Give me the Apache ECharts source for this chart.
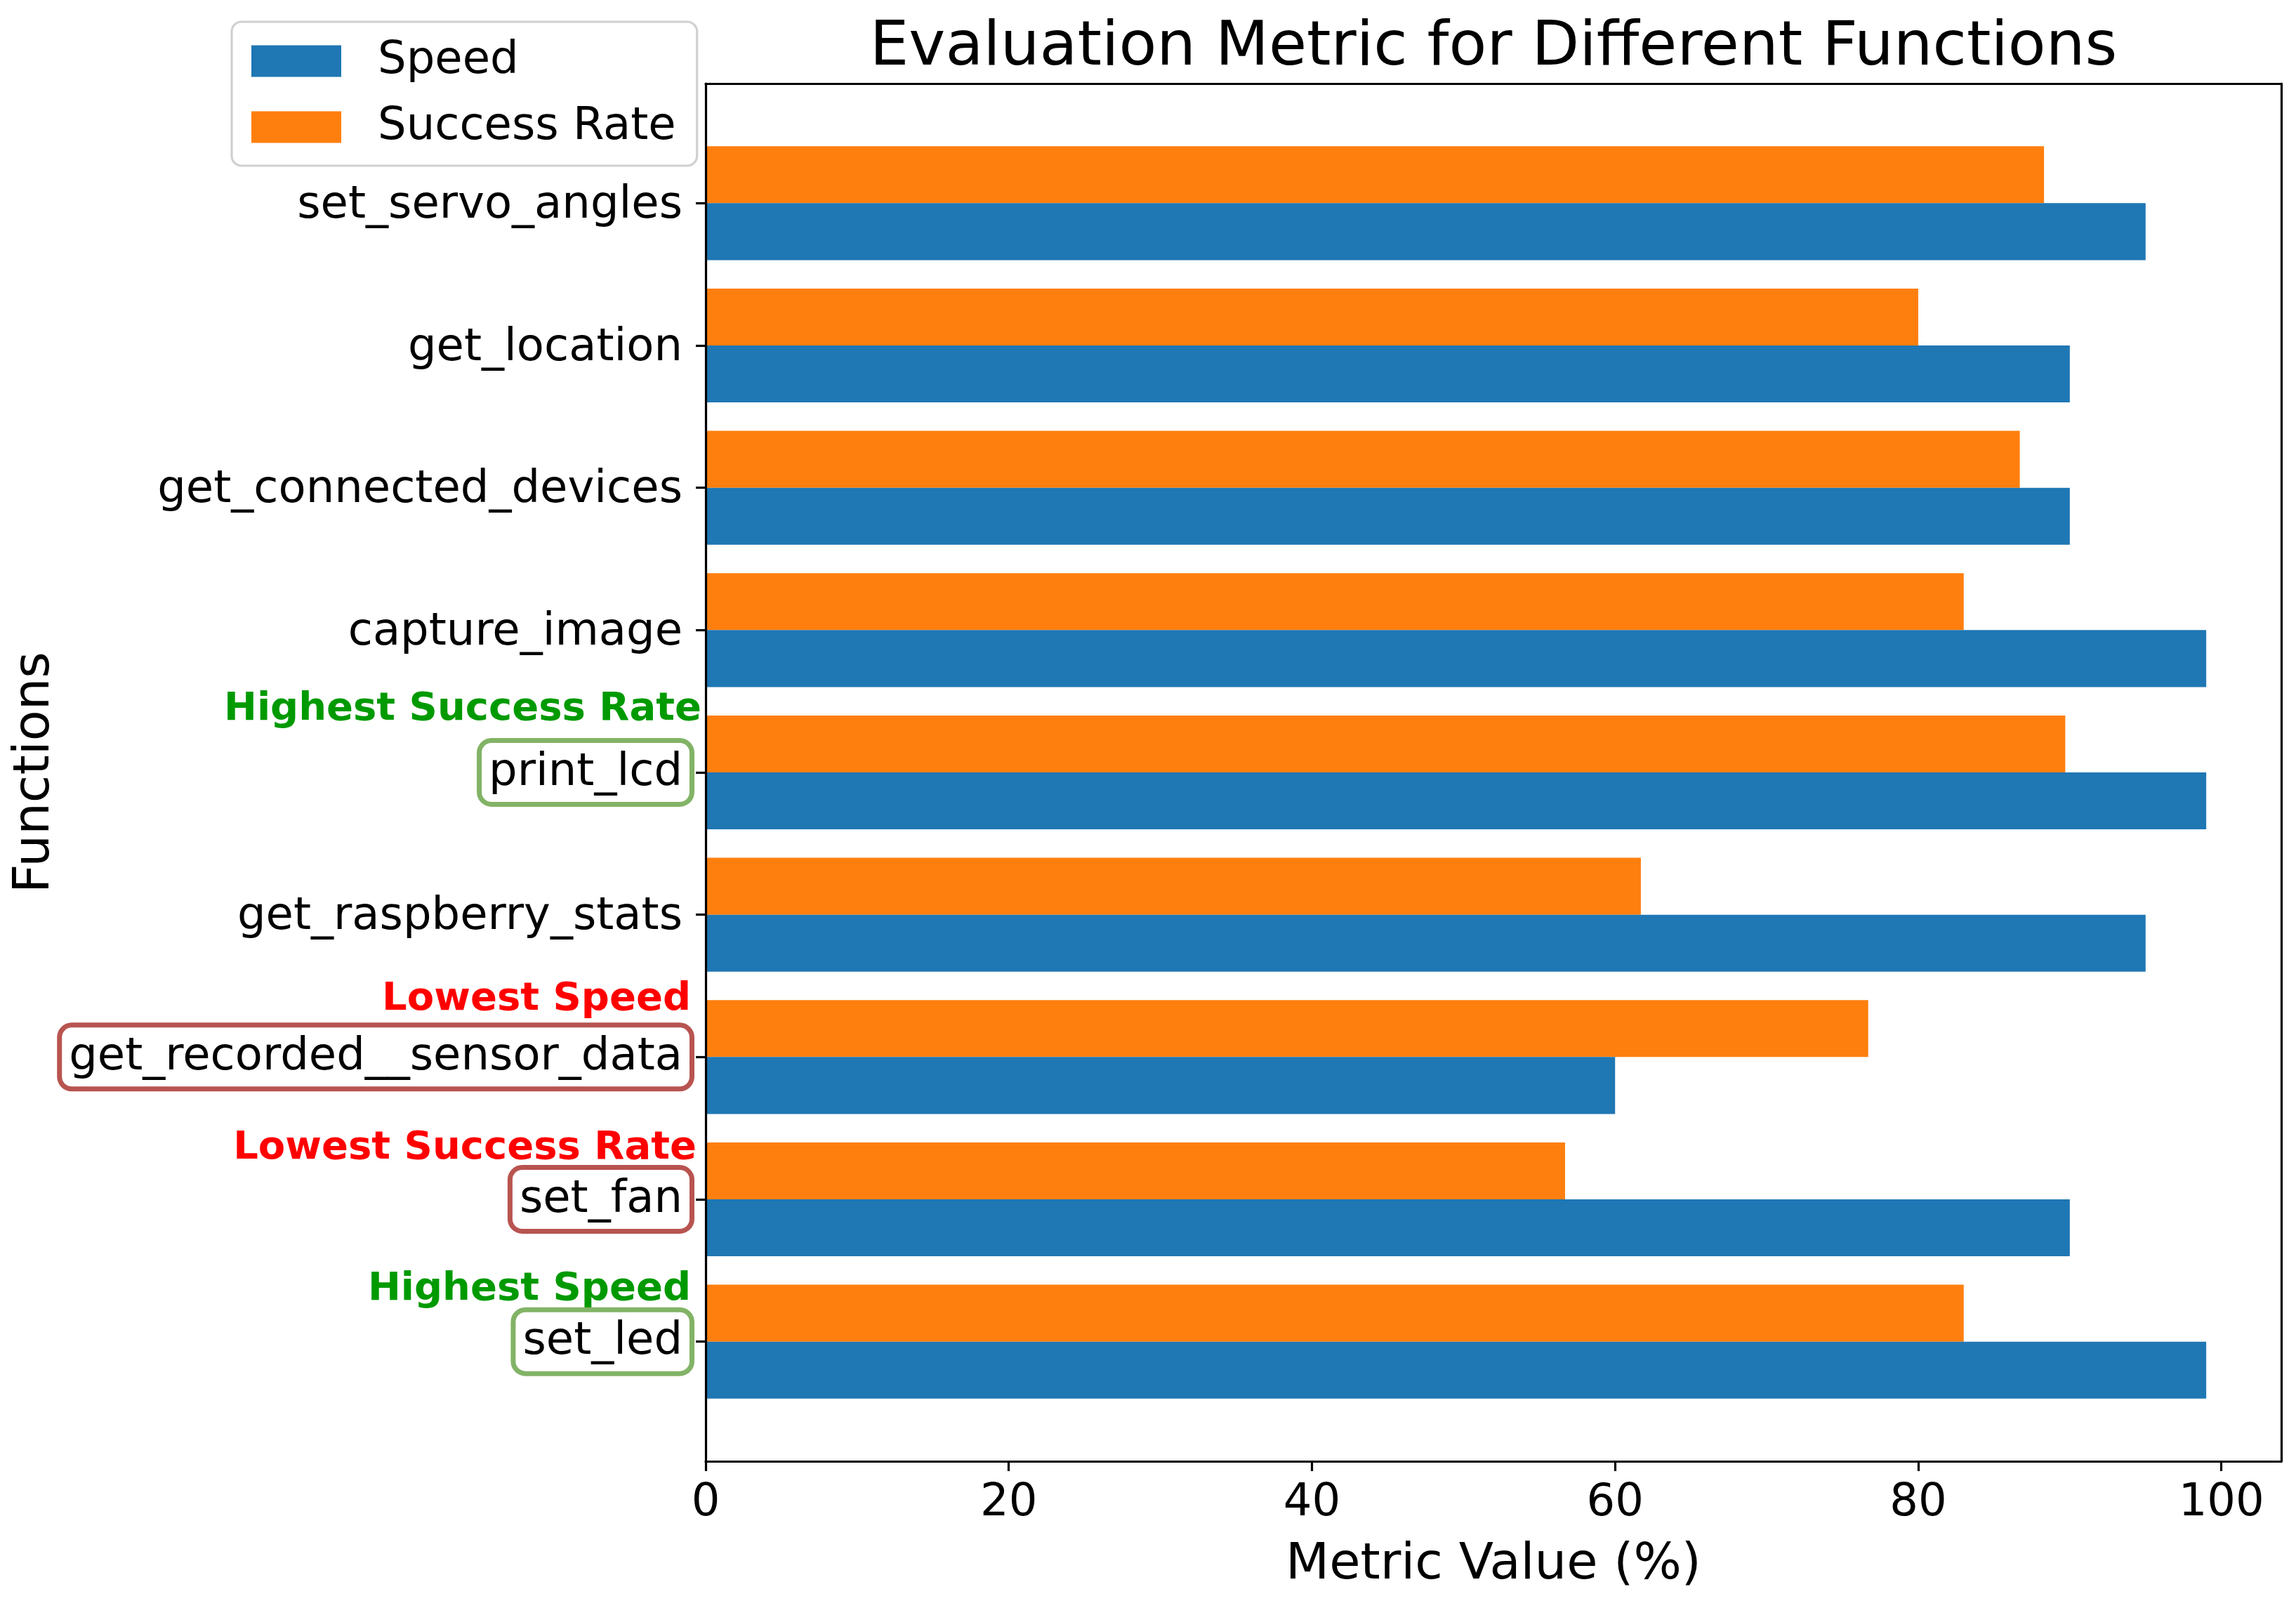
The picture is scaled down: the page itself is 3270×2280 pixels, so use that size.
<!DOCTYPE html>
<html>
<head>
<meta charset="utf-8">
<script src="https://cdn.jsdelivr.net/npm/echarts@6/dist/echarts.min.js"></script>
<style>html,body{margin:0;padding:0;background:#fff;}#chart{width:3270px;height:2280px;}</style>
</head>
<body>
<div id="chart"></div>
<script>
const categories = ['set_led', 'set_fan', 'get_recorded__sensor_data', 'get_raspberry_stats', 'print_lcd', 'capture_image', 'get_connected_devices', 'get_location', 'set_servo_angles'];
const speed = [99, 90, 60, 95, 99, 99, 90, 90, 95];
const successRate = [83.0, 56.7, 76.7, 61.7, 89.7, 83.0, 86.7, 80.0, 88.3];
const xTicks = [0, 20, 40, 60, 80, 100];
const annotatedLabels = ['set_led', 'set_fan', 'get_recorded__sensor_data', 'print_lcd'];
const annotationTexts = ['Highest Speed', 'Lowest Success Rate', 'Lowest Speed', 'Highest Success Rate'];
const annotationKinds = ['good', 'bad', 'bad', 'good'];

const FONT = 'DejaVu Sans';
const annLineHeights = [64, 62, 80, 96];
const annGaps = [11, 3, 11, -4];
const rich = {
  plain: { fontFamily: FONT, fontSize: 64, color: '#000', padding: [14, 10, 6, 10] },
  goodBox: { fontFamily: FONT, fontSize: 64, color: '#000', padding: [11, 10, 9, 10], borderColor: '#82b366', borderWidth: 7, borderRadius: 14, backgroundColor: '#fff' },
  badBox: { fontFamily: FONT, fontSize: 64, color: '#000', padding: [11, 10, 9, 10], borderColor: '#b85450', borderWidth: 7, borderRadius: 14, backgroundColor: '#fff' },
  gap: { fontSize: 10, width: 18 }
};
annotatedLabels.forEach(function (l, i) {
  rich['ann' + i] = { fontFamily: FONT, fontSize: 56, fontWeight: 'bold', color: annotationKinds[i] === 'good' ? '#009a00' : '#ff0000', lineHeight: annLineHeights[i] };
  rich['pad' + i] = { fontSize: 10, lineHeight: annLineHeights[i] };
  rich['agap' + i] = { fontSize: 10, width: Math.max(annGaps[i] + 5, 0) };
});

const chart = echarts.init(document.getElementById('chart'), null, { renderer: 'canvas' });
const frameLine = { show: true, onZero: false, lineStyle: { color: '#000', width: 3.2 } };
const xMax = 99 * 1.05;

chart.setOption({
  backgroundColor: '#fff',
  animation: false,
  title: {
    text: 'Evaluation Metric for Different Functions',
    left: 2127, top: 25, textAlign: 'center', padding: 0,
    textStyle: { fontFamily: FONT, fontSize: 88, fontWeight: 'normal', color: '#000' }
  },
  legend: {
    data: ['Speed', 'Success Rate'],
    orient: 'vertical', left: 330, top: 31,
    padding: [24, 30, 23, 28],
    itemWidth: 128, itemHeight: 45, itemGap: 30,
    icon: 'rect',
    backgroundColor: '#fff', borderColor: '#d0d0d0', borderWidth: 3.2, borderRadius: 14,
    textStyle: { fontFamily: FONT, fontSize: 64, color: '#000', lineHeight: 64, padding: [0, 0, 0, 47] }
  },
  grid: [
    { left: 1005, right: 21, top: 119, bottom: 199 },
    { left: 1005, right: 21, top: 188, bottom: 268 }
  ],
  xAxis: [
    {
      gridIndex: 0, type: 'value', min: 0, max: xMax, position: 'bottom', z: 10,
      axisLine: frameLine,
      axisTick: { show: true, length: 14, inside: false, lineStyle: { color: '#000', width: 3.2 }, customValues: xTicks },
      axisLabel: { show: true, margin: 28, fontFamily: FONT, fontSize: 64, color: '#000', customValues: xTicks },
      splitLine: { show: false },
      name: 'Metric Value (%)', nameLocation: 'middle', nameGap: 112,
      nameTextStyle: { fontFamily: FONT, fontSize: 72, color: '#000' }
    },
    {
      gridIndex: 0, type: 'value', min: 0, max: xMax, position: 'top', z: 10,
      axisLine: frameLine, axisTick: { show: false }, axisLabel: { show: false }, splitLine: { show: false }
    },
    {
      gridIndex: 1, type: 'value', min: 0, max: xMax, show: false, splitLine: { show: false }
    }
  ],
  yAxis: [
    {
      gridIndex: 0, type: 'value', min: 0, max: 1, position: 'left', z: 10,
      axisLine: frameLine, axisTick: { show: false }, axisLabel: { show: false }, splitLine: { show: false },
      name: 'Functions', nameLocation: 'middle', nameGap: 919, nameRotate: 90,
      nameTextStyle: { fontFamily: FONT, fontSize: 72, color: '#000' }
    },
    {
      gridIndex: 0, type: 'value', min: 0, max: 1, position: 'right', z: 10,
      axisLine: frameLine, axisTick: { show: false }, axisLabel: { show: false }, splitLine: { show: false }
    },
    {
      gridIndex: 1, type: 'category', data: categories, position: 'left', z: 10,
      axisLine: { show: false },
      axisTick: { show: true, alignWithLabel: true, interval: 0, length: 14, lineStyle: { color: '#000', width: 3.2 } },
      axisLabel: {
        interval: 0, margin: 5, align: 'right',
        formatter: function (value) {
          const i = annotatedLabels.indexOf(value);
          if (i < 0) return '{plain|' + value + '}{gap| }';
          return '{ann' + i + '|' + annotationTexts[i] + '}{agap' + i + '| }\n{' + annotationKinds[i] + 'Box|' + value + '}{gap| }\n{pad' + i + '| }';
        },
        rich: rich
      },
      splitLine: { show: false }
    }
  ],
  series: [
    {
      name: 'Success Rate', type: 'bar', xAxisIndex: 2, yAxisIndex: 2,
      data: successRate, barGap: '0%', barCategoryGap: '20%',
      itemStyle: { color: '#ff7f0e' }
    },
    {
      name: 'Speed', type: 'bar', xAxisIndex: 2, yAxisIndex: 2,
      data: speed, barGap: '0%', barCategoryGap: '20%',
      itemStyle: { color: '#1f77b4' }
    }
  ]
});
</script>
</body>
</html>
